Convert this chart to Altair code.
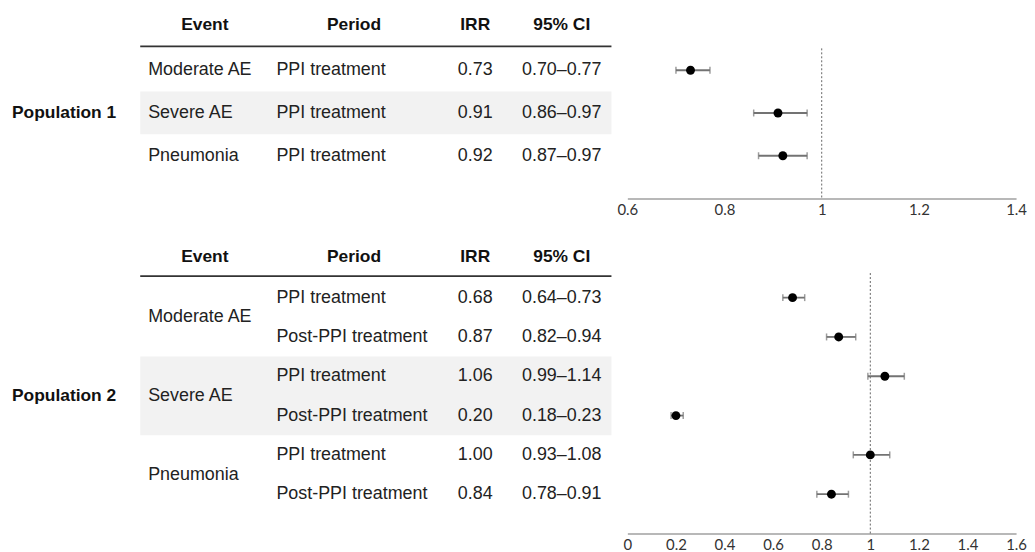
import altair as alt
import pandas as pd

# ---------------- data ----------------
headers = ["Event", "Period", "IRR", "95% CI"]
pop_labels = ["Population 1", "Population 2"]

p1_events = ["Moderate AE", "Severe AE", "Pneumonia"]
p1_periods = ["PPI treatment", "PPI treatment", "PPI treatment"]
p1_irr = [0.73, 0.91, 0.92]
p1_lo = [0.70, 0.86, 0.87]
p1_hi = [0.77, 0.97, 0.97]

p2_events = ["Moderate AE", "Moderate AE", "Severe AE", "Severe AE", "Pneumonia", "Pneumonia"]
p2_periods = ["PPI treatment", "Post-PPI treatment", "PPI treatment",
              "Post-PPI treatment", "PPI treatment", "Post-PPI treatment"]
p2_irr = [0.68, 0.87, 1.06, 0.20, 1.00, 0.84]
p2_lo = [0.64, 0.82, 0.99, 0.18, 0.93, 0.78]
p2_hi = [0.73, 0.94, 1.14, 0.23, 1.08, 0.91]

p1_xticks = [0.6, 0.8, 1.0, 1.2, 1.4]
p2_xticks = [0, 0.2, 0.4, 0.6, 0.8, 1.0, 1.2, 1.4, 1.6]

# ---------------- layout / style ----------------
TABLE_W = 607
FOREST_W = 391
FONT = "Liberation Sans"
FS = 18
FS_B = 17.5
POP_X = 4
LINE_X0, LINE_X1 = 133, 607
HDR_X = [198, 348, 470, 557]
EVENT_X, PERIOD_X, IRR_X, CI_X = 141, 270, 470, 557


def make_df(events, periods, irr, lo, hi):
    df = pd.DataFrame({"event": events, "period": periods, "irr": irr, "lo": lo, "hi": hi})
    df["row"] = list(range(1, len(irr) + 1))
    df["irr_txt"] = [f"{v:.2f}" for v in irr]
    df["ci_txt"] = [f"{a:.2f}\u2013{b:.2f}" for a, b in zip(lo, hi)]
    return df


def build_table(df, pop_label, ydom, h, hdr_y, line_y):
    ysc = alt.Scale(domain=ydom, reverse=True, nice=False, zero=False)
    ev = df.groupby("event", sort=False)["row"].agg(["min", "max"]).reset_index()
    ev["mid"] = (ev["min"] + ev["max"]) / 2
    ev["b0"] = ev["min"] - 0.5
    ev["b1"] = ev["max"] + 0.5
    shade = ev.iloc[[1]]

    band = alt.Chart(shade).mark_rect(color="#f2f2f2").encode(
        x=alt.value(LINE_X0), x2=alt.value(LINE_X1),
        y=alt.Y("b0:Q", scale=ysc, axis=None), y2="b1:Q")

    hline = alt.Chart(pd.DataFrame({"a": [0]})).mark_rule(color="#333333", strokeWidth=1.8).encode(
        x=alt.value(LINE_X0), x2=alt.value(LINE_X1), y=alt.value(line_y))

    hdr_layers = []
    for name, hx in zip(headers, HDR_X):
        hdr_layers.append(
            alt.Chart(pd.DataFrame({"h": [name]})).mark_text(
                font=FONT, fontSize=FS_B, fontWeight="bold", color="#111111",
                align="center", baseline="middle").encode(
                text="h:N", x=alt.value(hx), y=alt.value(hdr_y)))

    base_txt = dict(font=FONT, fontSize=FS, color="#222222", baseline="middle")
    ev_txt = alt.Chart(ev).mark_text(align="left", **base_txt).encode(
        x=alt.value(EVENT_X), y=alt.Y("mid:Q", scale=ysc, axis=None), text="event:N")
    per_txt = alt.Chart(df).mark_text(align="left", **base_txt).encode(
        x=alt.value(PERIOD_X), y=alt.Y("row:Q", scale=ysc, axis=None), text="period:N")
    irr_txt = alt.Chart(df).mark_text(align="center", **base_txt).encode(
        x=alt.value(IRR_X), y=alt.Y("row:Q", scale=ysc, axis=None), text="irr_txt:N")
    ci_txt = alt.Chart(df).mark_text(align="center", **base_txt).encode(
        x=alt.value(CI_X), y=alt.Y("row:Q", scale=ysc, axis=None), text="ci_txt:N")

    pop = alt.Chart(pd.DataFrame({"p": [pop_label], "y": [(df["row"].min() + df["row"].max()) / 2]})).mark_text(
        font=FONT, fontSize=FS_B, fontWeight="bold", color="#111111", align="left", baseline="middle").encode(
        x=alt.value(POP_X), y=alt.Y("y:Q", scale=ysc, axis=None), text="p:N")

    return alt.layer(band, hline, *hdr_layers, ev_txt, per_txt, irr_txt, ci_txt, pop).properties(
        width=TABLE_W, height=h)


def build_forest(df, xdom, ticks, ydom, h, ref_top):
    ysc = alt.Scale(domain=ydom, reverse=True, nice=False, zero=False)
    xsc = alt.Scale(domain=xdom, nice=False, zero=False)
    xax = alt.Axis(values=ticks, format="~g", grid=False, ticks=False, domainColor="#a0a0a0",
                   domainWidth=1.5, labelFont="Lato", labelFontSize=15, labelColor="#333333",
                   labelPadding=4, title=None, labelFlush=False, labelOverlap=False)
    base = alt.Chart(df)
    ref = alt.Chart(pd.DataFrame({"a": [0]})).mark_rule(color="#666666", strokeWidth=1, strokeDash=[2, 2]).encode(
        x=alt.X(datum=1, scale=xsc, axis=xax), y=alt.value(ref_top), y2=alt.value(h))
    err = base.mark_rule(color="#737373", strokeWidth=1.8).encode(
        x=alt.X("lo:Q", scale=xsc, axis=xax), x2="hi:Q", y=alt.Y("row:Q", scale=ysc, axis=None))
    cap_lo = base.mark_tick(orient="vertical", color="#737373", size=7, thickness=1.5).encode(
        x=alt.X("lo:Q", scale=xsc, axis=xax), y=alt.Y("row:Q", scale=ysc, axis=None))
    cap_hi = base.mark_tick(orient="vertical", color="#737373", size=7, thickness=1.5).encode(
        x=alt.X("hi:Q", scale=xsc, axis=xax), y=alt.Y("row:Q", scale=ysc, axis=None))
    pts = base.mark_point(filled=True, color="#000000", size=80, opacity=1).encode(
        x=alt.X("irr:Q", scale=xsc, axis=xax), y=alt.Y("row:Q", scale=ysc, axis=None))
    return alt.layer(ref, err, cap_lo, cap_hi, pts).properties(width=FOREST_W, height=h)


df1 = make_df(p1_events, p1_periods, p1_irr, p1_lo, p1_hi)
df2 = make_df(p2_events, p2_periods, p2_irr, p2_lo, p2_hi)

Y1 = [-0.4186, 4.0]
H1 = 190
Y2 = [-0.46, 7.0]
H2 = 295

t1 = build_table(df1, pop_labels[0], Y1, H1, 16, 37)
f1 = build_forest(df1, [0.6, 1.4], p1_xticks, Y1, H1, 39)
t2 = build_table(df2, pop_labels[1], Y2, H2, 17, 36)
f2 = build_forest(df2, [0, 1.6], p2_xticks, Y2, H2, 33)

chart = alt.concat(t1, f1, t2, f2, columns=2, spacing={"row": 42, "column": 16},
                   bounds="flush", align="each").properties(padding=0).configure_view(stroke=None)

chart.save("out.html", embed_options={"renderer": "svg", "actions": False})
